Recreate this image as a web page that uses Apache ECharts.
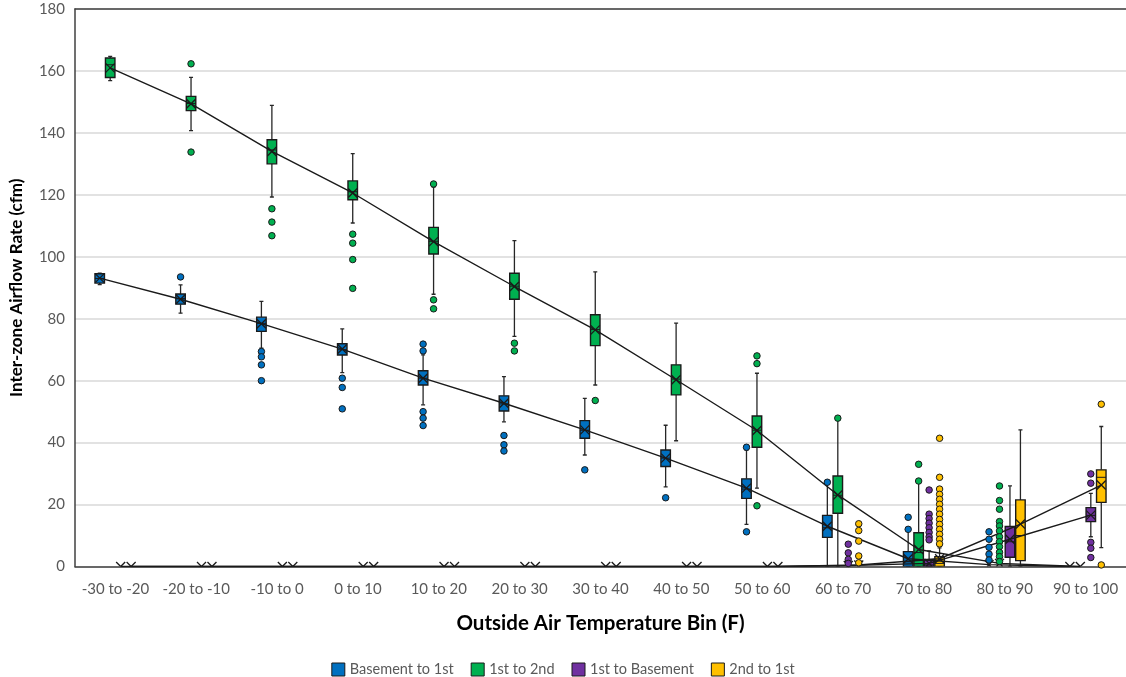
<!DOCTYPE html>
<html><head><meta charset="utf-8">
<script src="https://cdn.jsdelivr.net/npm/echarts@6.0.0/dist/echarts.min.js"></script>
<style>html,body{margin:0;padding:0;background:#fff}#chart{width:1126px;height:677px}</style>
</head><body><div id="chart"></div>
<script>
// ---------- DATA ----------
const CATEGORIES = ['-30 to -20','-20 to -10','-10 to 0','0 to 10','10 to 20','20 to 30','30 to 40','40 to 50','50 to 60','60 to 70','70 to 80','80 to 90','90 to 100'];
const Y_TICKS = [0,20,40,60,80,100,120,140,160,180];

// box = [low whisker, Q1, median, Q3, high whisker]; null = no box
const BASEMENT_TO_1ST_BOX = [
  [91.0,91.5,93.0,94.5,94.7],[81.8,84.7,86.5,88.0,90.9],[70.5,75.9,78.5,80.5,85.6],[62.6,68.3,70.0,71.9,76.7],
  [52.2,58.6,60.8,63.2,68.3],[46.7,50.2,52.5,55.1,61.3],[36.0,41.4,44.0,47.1,54.3],[25.7,32.3,35.0,37.6,45.6],
  [13.6,22.0,25.0,28.3,37.6],[0,9.4,12.5,16.5,26.6],[0,0,1.5,4.8,11.8],null,null];
const BASEMENT_TO_1ST_MEAN = [93.1,86.3,78.4,70.2,60.8,52.7,44.1,35.0,25.3,13.0,2.5,0.6,0];
const BASEMENT_TO_1ST_OUT = [[1,93.5],[2,69.4],[2,67.7],[2,65.1],[2,60.0],[3,60.8],[3,57.8],[3,50.9],
  [4,71.8],[4,69.6],[4,50.0],[4,47.9],[4,45.5],[5,42.3],[5,39.3],[5,37.3],[6,31.2],[7,22.2],[8,38.5],[8,11.2],
  [9,27.2],[10,15.9],[10,12.0],[11,11.2],[11,8.8],[11,6.2],[11,4.0],[11,2.1]];

const FIRST_TO_2ND_BOX = [
  [156.9,157.9,162.0,164.2,164.7],[140.7,147.2,149.5,151.8,157.9],[119.3,130.0,134.5,137.8,148.9],[110.9,118.4,121.0,124.5,133.3],
  [87.9,100.9,105.0,109.5,122.5],[74.3,86.3,90.5,94.7,105.2],[58.6,71.3,76.5,81.3,95.1],[40.6,55.4,60.5,65.1,78.6],
  [25.3,38.5,44.0,48.6,62.4],[0,17.2,23.0,29.2,47.2],[0,0,4.5,10.9,27.2],null,null];
const FIRST_TO_2ND_MEAN = [161.0,149.4,134.0,120.6,104.9,90.4,76.4,60.3,43.9,23.1,5.5,1.0,0];
const FIRST_TO_2ND_OUT = [[1,162.3],[1,133.8],[2,115.5],[2,111.2],[2,106.8],[3,107.3],[3,104.4],[3,99.1],[3,89.8],
  [4,123.5],[4,86.1],[4,83.2],[5,72.1],[5,69.6],[6,53.6],[8,68.0],[8,65.5],[8,19.6],[9,47.9],[10,33.0],[10,27.6],
  [11,26.0],[11,21.3],[11,18.5],[11,14.5],[11,13.1],[11,11.5],[11,9.6],[11,8.0],[11,6.4],[11,4.6],[11,3.2],[11,1.6]];

const FIRST_TO_BASEMENT_BOX = [null,null,null,null,null,null,null,null,null,null,
  [0,0,0.5,2.3,5.0],[0,3.0,8.0,12.9,26.0],[9.6,14.5,16.5,19.0,23.6]];
const FIRST_TO_BASEMENT_MEAN = [0,0,0,0,0,0,0,0,0,0.3,1.0,8.8,16.6];
const FIRST_TO_BASEMENT_OUT = [[9,7.2],[9,4.4],[9,2.3],[9,1.0],[10,24.7],[10,16.9],[10,15.5],[10,14.0],[10,12.5],
  [10,11.0],[10,9.6],[10,8.6],[12,29.9],[12,26.9],[12,7.8],[12,5.9],[12,2.9]];

const SECOND_TO_1ST_BOX = [null,null,null,null,null,null,null,null,null,null,
  [0,0,1.0,3.2,6.0],[0,1.9,10.0,21.5,44.1],[6.1,20.7,28.8,31.2,45.2]];
const SECOND_TO_1ST_MEAN = [0,0,0,0,0,0,0,0,0,0.5,2.5,13.7,26.3];
const SECOND_TO_1ST_OUT = [[9,13.8],[9,11.6],[9,8.2],[9,3.4],[9,1.2],[10,41.4],[10,28.8],[10,25.0],[10,23.3],
  [10,21.7],[10,20.1],[10,18.5],[10,16.9],[10,15.2],[10,13.6],[10,12.0],[10,10.4],[10,8.8],[10,7.3],[12,52.4],[12,0.5]];

// ---------- STYLE ----------
const GROUPS = [
  {name:'Basement to 1st', color:'#0070C0', box:BASEMENT_TO_1ST_BOX, mean:BASEMENT_TO_1ST_MEAN, out:BASEMENT_TO_1ST_OUT},
  {name:'1st to 2nd', color:'#00B050', box:FIRST_TO_2ND_BOX, mean:FIRST_TO_2ND_MEAN, out:FIRST_TO_2ND_OUT},
  {name:'1st to Basement', color:'#7030A0', box:FIRST_TO_BASEMENT_BOX, mean:FIRST_TO_BASEMENT_MEAN, out:FIRST_TO_BASEMENT_OUT},
  {name:'2nd to 1st', color:'#FFC000', box:SECOND_TO_1ST_BOX, mean:SECOND_TO_1ST_MEAN, out:SECOND_TO_1ST_OUT}
];
const FONT = 'Lato, "Noto Sans", sans-serif';
const STEP = 0.1295;       // spacing between series inside a category (category units)
const BOX_PX = 9.5;
const DARK = '#1a1a1a';

function offsetOf(i){ return (i - 1.5) * STEP; }

// keep the part of a segment that lies above the plot's bottom edge (y <= yb)
function clipSeg(x1,y1,x2,y2,yb){
  if (y1 > yb && y2 > yb) return null;
  if (y1 <= yb && y2 <= yb) return [x1,y1,x2,y2];
  const t = (yb - y1) / (y2 - y1);
  const xi = x1 + t * (x2 - x1);
  return y1 > yb ? [xi,yb,x2,y2] : [x1,y1,xi,yb];
}

function makeRender(gi, color){
  const off = offsetOf(gi);
  return function(params, api){
    const c = api.value(0) + off;
    const has = api.value(7);
    const hw = BOX_PX/2;
    const ch = [];
    if (has) {
      const yLo = api.coord([c, api.value(2)])[1];
      const yQ1 = api.coord([c, api.value(3)])[1];
      const yMed = api.coord([c, api.value(4)])[1];
      const yQ3 = api.coord([c, api.value(5)])[1];
      const yHi = api.coord([c, api.value(6)])[1];
      const x = api.coord([c, 0])[0];
      const ls = {stroke:'#262626', lineWidth:1.3};
      ch.push({type:'line', shape:{x1:x,y1:yHi,x2:x,y2:yQ3}, style:ls});
      ch.push({type:'line', shape:{x1:x,y1:yQ1,x2:x,y2:yLo}, style:ls});
      ch.push({type:'line', shape:{x1:x-2,y1:yHi,x2:x+2,y2:yHi}, style:ls});
      ch.push({type:'line', shape:{x1:x-2,y1:yLo,x2:x+2,y2:yLo}, style:ls});
      ch.push({type:'rect', shape:{x:x-hw, y:yQ3, width:BOX_PX, height:Math.max(yQ1-yQ3,0.5)},
               style:{fill:color, stroke:DARK, lineWidth:1.4}});
      ch.push({type:'line', shape:{x1:x-hw,y1:yMed,x2:x+hw,y2:yMed}, style:{stroke:DARK, lineWidth:1}});
    }
    const pm = api.coord([c, api.value(1)]);
    const yb = api.coord([c, 0])[1];
    const s = 4.5;
    const xs = {stroke:DARK, lineWidth:1.3};
    const a = clipSeg(pm[0]-s, pm[1]-s, pm[0]+s, pm[1]+s, yb);
    const b = clipSeg(pm[0]-s, pm[1]+s, pm[0]+s, pm[1]-s, yb);
    if (a) ch.push({type:'line', shape:{x1:a[0],y1:a[1],x2:a[2],y2:a[3]}, style:xs});
    if (b) ch.push({type:'line', shape:{x1:b[0],y1:b[1],x2:b[2],y2:b[3]}, style:xs});
    return {type:'group', children:ch};
  };
}

const series = [];
GROUPS.forEach((g, gi) => {
  const data = CATEGORIES.map((_, i) => {
    const b = g.box[i];
    return b ? [i, g.mean[i], b[0], b[1], b[2], b[3], b[4], 1] : [i, g.mean[i], 0, 0, 0, 0, 0, 0];
  });
  series.push({
    name: g.name, type:'custom', xAxisIndex:1, yAxisIndex:0, clip:true, z:2,
    itemStyle:{color:g.color},
    renderItem: makeRender(gi, g.color),
    encode:{x:0, y:[1]},
    data: data
  });
});
GROUPS.forEach((g, gi) => {
  series.push({
    name: g.name + ' mean', type:'line', xAxisIndex:1, yAxisIndex:0, z:3, clip:true,
    symbol:'none', silent:true,
    lineStyle:{color:DARK, width:1.4},
    data: g.mean.map((m, i) => [i + offsetOf(gi), m])
  });
});
GROUPS.forEach((g, gi) => {
  series.push({
    name: g.name + ' outliers', type:'scatter', xAxisIndex:1, yAxisIndex:0, z:4,
    symbol:'circle', symbolSize:6.5,
    itemStyle:{color:g.color, borderColor:DARK, borderWidth:1, opacity:1},
    data: g.out.map(p => [p[0] + offsetOf(gi), p[1]])
  });
});

const chart = echarts.init(document.getElementById('chart'), null, {renderer:'canvas'});
chart.setOption({
  animation:false,
  backgroundColor:'#ffffff',
  textStyle:{fontFamily:FONT},
  grid:{left:72, right:0, top:9, bottom:110.5, containLabel:false},
  legend:{
    show:true, top:657, left:'center', icon:'rect', itemWidth:13, itemHeight:13, itemGap:17,
    textStyle:{fontFamily:FONT, fontSize:14.5, color:'#595959'},
    data: GROUPS.map(g => ({name:g.name, itemStyle:{color:g.color, borderColor:DARK, borderWidth:1}}))
  },
  xAxis:[
    {type:'category', data:CATEGORIES, boundaryGap:true, position:'bottom',
     axisLine:{show:true, onZero:false, lineStyle:{color:'#404040', width:1.5}},
     axisTick:{show:false},
     axisLabel:{color:'#595959', fontSize:15, margin:15, interval:0, fontFamily:FONT},
     splitLine:{show:false},
     name:'Outside Air Temperature Bin (F)', nameLocation:'middle', nameGap:46,
     nameTextStyle:{fontSize:20.5, fontWeight:'bold', color:'#000', fontFamily:FONT}},
    {type:'value', min:-0.5, max:12.5, position:'top', show:true,
     axisLine:{show:true, onZero:false, lineStyle:{color:'#404040', width:1.5}},
     axisTick:{show:false}, axisLabel:{show:false}, splitLine:{show:false}}
  ],
  yAxis:[{
    type:'value', min:Y_TICKS[0], max:Y_TICKS[Y_TICKS.length-1], interval:Y_TICKS[1]-Y_TICKS[0],
    axisLine:{show:true, onZero:false, lineStyle:{color:'#404040', width:1.5}},
    axisTick:{show:false},
    axisLabel:{color:'#595959', fontSize:15, margin:10, fontFamily:FONT},
    splitLine:{show:true, lineStyle:{color:'#d9d9d9', width:1.5}},
    name:'Inter-zone Airflow Rate (cfm)', nameLocation:'middle', nameGap:50, nameRotate:90,
    nameTextStyle:{fontSize:17, fontWeight:'bold', color:'#000', fontFamily:FONT}
  }],
  series: series
});
</script></body></html>
